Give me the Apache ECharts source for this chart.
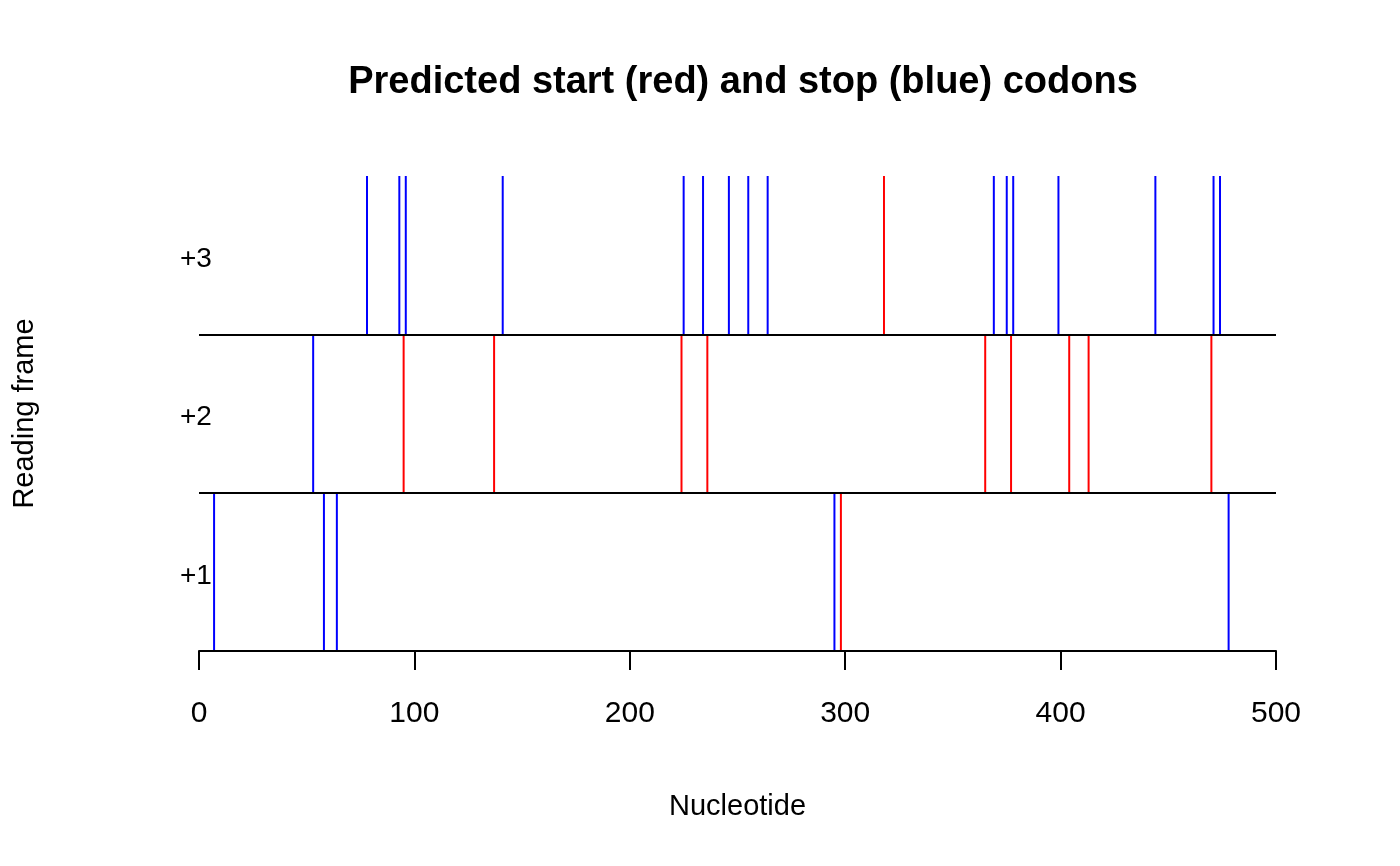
<!DOCTYPE html>
<html>
<head>
<meta charset="utf-8">
<script src="https://cdn.jsdelivr.net/npm/echarts@6/dist/echarts.min.js"></script>
<style>html,body{margin:0;padding:0;background:#fff;}#c{width:1400px;height:866px;}</style>
</head>
<body>
<div id="c"></div>
<script>
// Reading-frame labels (bottom to top)
var frameLabels = ['+1', '+2', '+3'];
// Start codon (red) positions per frame
var frame1Start = [298];
var frame2Start = [95, 137, 224, 236, 365, 377, 404, 413, 470];
var frame3Start = [318];
// Stop codon (blue) positions per frame
var frame1Stop = [7, 58, 64, 295, 478];
var frame2Stop = [53];
var frame3Stop = [78, 93, 96, 141, 225, 234, 246, 255, 264, 369, 375, 378, 399, 444, 471, 474];
// Axis ticks
var xTicks = [0, 100, 200, 300, 400, 500];

function toPairs(arr, frame) { return arr.map(function (v) { return [v, frame]; }); }
var startData = [].concat(toPairs(frame1Start, 1), toPairs(frame2Start, 2), toPairs(frame3Start, 3));
var stopData = [].concat(toPairs(frame1Stop, 1), toPairs(frame2Stop, 2), toPairs(frame3Stop, 3));

function codonRenderer(color) {
  return function (params, api) {
    var x = api.value(0), f = api.value(1);
    var p0 = api.coord([x, f - 1]);
    var p1 = api.coord([x, f]);
    return {
      type: 'line',
      shape: { x1: p0[0], y1: p0[1], x2: p1[0], y2: p1[1] },
      style: { stroke: color, lineWidth: 2 }
    };
  };
}

var FONT = 'Liberation Sans, Arial, Helvetica, sans-serif';
var chart = echarts.init(document.getElementById('c'), null, { renderer: 'canvas' });
chart.setOption({
  backgroundColor: '#ffffff',
  animation: false,
  title: {
    text: 'Predicted start (red) and stop (blue) codons',
    left: 738,
    textAlign: 'center',
    top: 59,
    textStyle: { fontFamily: FONT, fontSize: 38, fontWeight: 'bold', color: '#000' }
  },
  grid: { left: 199, right: 124, top: 176, height: 475, containLabel: false },
  xAxis: {
    type: 'value', min: xTicks[0], max: xTicks[xTicks.length - 1], interval: 100,
    name: 'Nucleotide', nameLocation: 'middle', nameGap: 156,
    nameTextStyle: { fontFamily: FONT, fontSize: 29, color: '#000', verticalAlign: 'middle' },
    axisLine: { show: true, lineStyle: { color: '#000', width: 2 } },
    axisTick: { show: true, length: 19, lineStyle: { color: '#000', width: 2 } },
    axisLabel: { fontFamily: FONT, fontSize: 30, color: '#000', margin: 48 },
    splitLine: { show: false }
  },
  yAxis: [{
    type: 'value', min: 0, max: 3, interval: 1,
    name: 'Reading frame', nameLocation: 'middle', nameGap: 174,
    nameTextStyle: { fontFamily: FONT, fontSize: 29, color: '#000', verticalAlign: 'middle' },
    axisLine: { show: false }, axisTick: { show: false }, axisLabel: { show: false },
    splitLine: { show: false }
  }, {
    type: 'category', data: frameLabels, position: 'left', boundaryGap: true,
    axisLine: { show: false }, axisTick: { show: false }, splitLine: { show: false },
    axisLabel: {
      fontFamily: FONT, fontSize: 28, color: '#000', align: 'left', margin: 19,
      formatter: function (v) { return '{f|' + v + '}'; },
      rich: { f: { fontFamily: FONT, fontSize: 28, color: '#000', padding: [8, 0, 0, 0] } }
    }
  }],
  series: [{
    type: 'line', data: [], silent: true,
    markLine: {
      silent: true, symbol: 'none', label: { show: false },
      lineStyle: { color: '#000', width: 2, type: 'solid' },
      data: [{ yAxis: 0 }, { yAxis: 1 }, { yAxis: 2 }]
    }
  }, {
    name: 'start', type: 'custom', data: startData, renderItem: codonRenderer('#ff0000'), z: 3
  }, {
    name: 'stop', type: 'custom', data: stopData, renderItem: codonRenderer('#0000ff'), z: 3
  }]
});
</script>
</body>
</html>
